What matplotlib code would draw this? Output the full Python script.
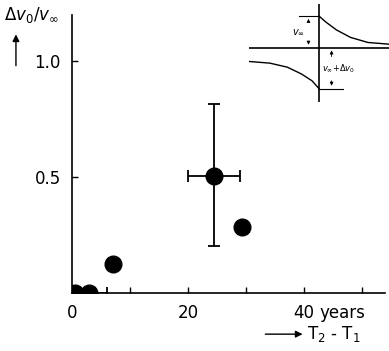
import matplotlib.pyplot as plt

# data
years = [0.5, 3.0, 7.0, 24.5, 29.3]
ratio = [0.0, 0.0, 0.125, 0.505, 0.285]
xerr_lo = [0, 3.0, 0, 4.5, 0]
xerr_hi = [0, 3.0, 0, 4.5, 0]
yerr_lo = [0, 0, 0, 0.30, 0]
yerr_hi = [0, 0, 0, 0.31, 0]

xticks = [10, 20, 30, 40, 50]
xticklabels = ["", "20", "", "40", ""]
yticks = [0.5, 1.0]
yticklabels = ["0.5", "1.0"]

# schematic inset (pixel-read points, arbitrary units)
up_t = [0, 0.1, 0.25, 0.45, 0.7, 1.0]
up_v = [0.93, 0.75, 0.52, 0.3, 0.15, 0.1]
lo_t = [-1.0, -0.7, -0.45, -0.25, -0.1, 0]
lo_v = [-0.41, -0.46, -0.58, -0.78, -0.98, -1.21]

fig = plt.figure(figsize=(3.89, 3.51), dpi=100)
ax = fig.add_axes([0.185, 0.165, 0.805, 0.792])

ax.errorbar(years, ratio, xerr=[xerr_lo, xerr_hi], yerr=[yerr_lo, yerr_hi],
            fmt="o", color="black", ms=12, elinewidth=1.3, capsize=4, capthick=1.3)

ax.set_xlim(0, 54)
ax.set_ylim(0, 1.2)
ax.spines["top"].set_visible(False)
ax.spines["right"].set_visible(False)
ax.spines["left"].set_linewidth(1.2)
ax.spines["bottom"].set_linewidth(1.2)
ax.set_xticks(xticks)
ax.set_xticklabels(xticklabels, fontsize=12)
ax.set_yticks(yticks)
ax.set_yticklabels(yticklabels, fontsize=12)
ax.tick_params(direction="in", length=4, width=1)
ax.tick_params(axis="x", pad=8)
ax.tick_params(axis="y", pad=8)

ax.annotate("0", xy=(0, 0), xycoords="data", xytext=(0, -8),
            textcoords="offset points", ha="center", va="top", fontsize=12)
ax.annotate("years", xy=(40, 0), xycoords="data", xytext=(11, -8),
            textcoords="offset points", ha="left", va="top", fontsize=12)

# y label with arrow
fig.text(0.01, 0.985, r"$\Delta v_0 / v_\infty$", fontsize=12, ha="left", va="top")
ax.annotate("", xy=(0.041, 0.91), xycoords="figure fraction",
            xytext=(0.041, 0.805), textcoords="figure fraction",
            arrowprops=dict(arrowstyle="-|>", color="black", lw=1))

# x label with arrow
ax.annotate("", xy=(0.785, 0.048), xycoords="figure fraction",
            xytext=(0.675, 0.048), textcoords="figure fraction",
            arrowprops=dict(arrowstyle="-|>", color="black", lw=1))
fig.text(0.79, 0.048, r"T$_2$ - T$_1$", fontsize=12, ha="left", va="center")

# inset schematic
ins = fig.add_axes([0.64, 0.71, 0.36, 0.28])
ins.plot(up_t, up_v, color="black", lw=1)
ins.plot(lo_t, lo_v, color="black", lw=1)
ins.axhline(0, color="black", lw=1.2)
ins.axvline(0, color="black", lw=1.2)
ins.plot([-0.28, 0], [0.93, 0.93], color="black", lw=0.8)
ins.plot([0, 0.35], [-1.21, -1.21], color="black", lw=0.8)
ins.annotate("", xy=(-0.15, 0.93), xytext=(-0.15, 0.7),
             arrowprops=dict(arrowstyle="-|>", color="black", lw=0.6, mutation_scale=5))
ins.annotate("", xy=(-0.15, 0), xytext=(-0.15, 0.23),
             arrowprops=dict(arrowstyle="-|>", color="black", lw=0.6, mutation_scale=5))
ins.text(-0.2, 0.45, r"$v_\infty$", fontsize=7, ha="right", va="center")
ins.annotate("", xy=(0.18, 0), xytext=(0.18, -0.35),
             arrowprops=dict(arrowstyle="-|>", color="black", lw=0.6, mutation_scale=5))
ins.annotate("", xy=(0.18, -1.21), xytext=(0.18, -0.9),
             arrowprops=dict(arrowstyle="-|>", color="black", lw=0.6, mutation_scale=5))
ins.text(0.04, -0.62, r"$v_\infty$+$\Delta v_0$", fontsize=6, ha="left", va="center")
ins.set_xlim(-1.0, 1.0)
ins.set_ylim(-1.6, 1.3)
ins.axis("off")

fig.savefig("out.png", dpi=100)
